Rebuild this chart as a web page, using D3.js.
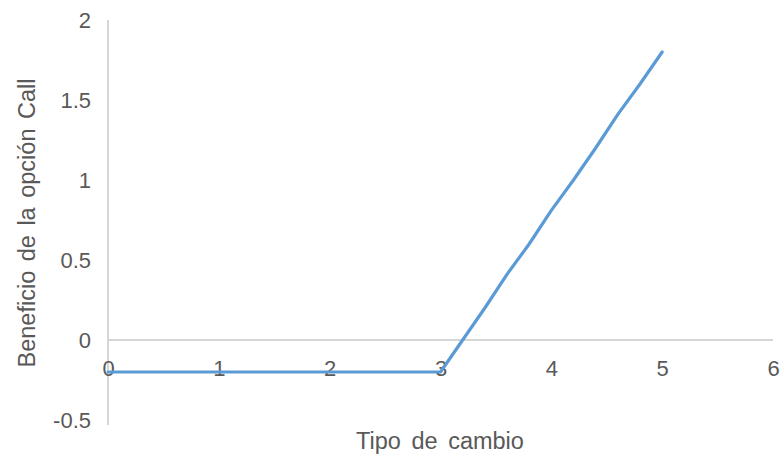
<!DOCTYPE html>
<html><head><meta charset="utf-8">
<script src="https://cdn.jsdelivr.net/npm/d3@7"></script>
<style>body{margin:0;background:#fff}svg{display:block}</style>
</head><body>
<svg id="c" width="784" height="456"></svg>
<script>
const xValues = [0, 1, 2, 3, 3.2, 3.4, 3.6, 3.8, 4, 4.2, 4.4, 4.6, 4.8, 5];
const profit  = [-0.2, -0.2, -0.2, -0.2, 0, 0.2, 0.41, 0.6, 0.81, 1.0, 1.2, 1.41, 1.6, 1.8];
const xTicks = [0, 1, 2, 3, 4, 5, 6];
const yTicks = [-0.5, 0, 0.5, 1, 1.5, 2];
const xTitle = "Tipo de cambio";
const yTitle = "Beneficio de la opción Call";

const svg = d3.select("#c");
const font = "'Liberation Sans', Arial, sans-serif";
const textColor = "#595959";
const x = d3.scaleLinear().domain([0, 6]).range([108, 773]);
const y = d3.scaleLinear().domain([-0.5, 2]).range([420, 20]);

// axis lines
svg.append("line").attr("x1", x(0)).attr("x2", x(0)).attr("y1", y(2)).attr("y2", y(-0.5)+5)
  .attr("stroke", "#c8c8c8").attr("stroke-width", 1.5);
svg.append("line").attr("x1", x(0)).attr("x2", x(6)).attr("y1", y(0)).attr("y2", y(0))
  .attr("stroke", "#c8c8c8").attr("stroke-width", 1.5);

const fmt = d => String(d);

// y tick labels
const yAxis = d3.axisLeft(y).tickValues(yTicks).tickSize(0).tickPadding(0).tickFormat(fmt);
const gy = svg.append("g").attr("transform", "translate(91,0)").call(yAxis);
gy.select(".domain").remove();
gy.selectAll("text").attr("font-family", font).attr("font-size", 22).attr("fill", textColor).attr("dy", "0.35em");

// x tick labels (just below zero line)
const xAxis = d3.axisBottom(x).tickValues(xTicks).tickSize(0).tickPadding(0).tickFormat(fmt);
const gx = svg.append("g").attr("transform", "translate(0,368)").call(xAxis);
gx.select(".domain").remove();
gx.selectAll("text").attr("font-family", font).attr("font-size", 22).attr("fill", textColor).attr("dy", "0.35em").attr("y", 0);

// line
const data = xValues.map((v, i) => [v, profit[i]]);
svg.append("path").datum(data)
  .attr("d", d3.line().x(d => x(d[0])).y(d => y(d[1])))
  .attr("fill", "none").attr("stroke", "#5b9bd5").attr("stroke-width", 3.2)
  .attr("stroke-linejoin", "round").attr("stroke-linecap", "round");

// titles
svg.append("text").attr("x", 440).attr("y", 441).attr("dy", "0.35em").attr("text-anchor", "middle")
  .attr("font-family", font).attr("font-size", 23.5).attr("word-spacing", 4).attr("fill", textColor).text(xTitle);
svg.append("text").attr("transform", "translate(27,223) rotate(-90)").attr("dy", "0.35em").attr("text-anchor", "middle")
  .attr("font-family", font).attr("font-size", 23.5).attr("word-spacing", 3).attr("fill", textColor).text(yTitle);
</script>
</body></html>
